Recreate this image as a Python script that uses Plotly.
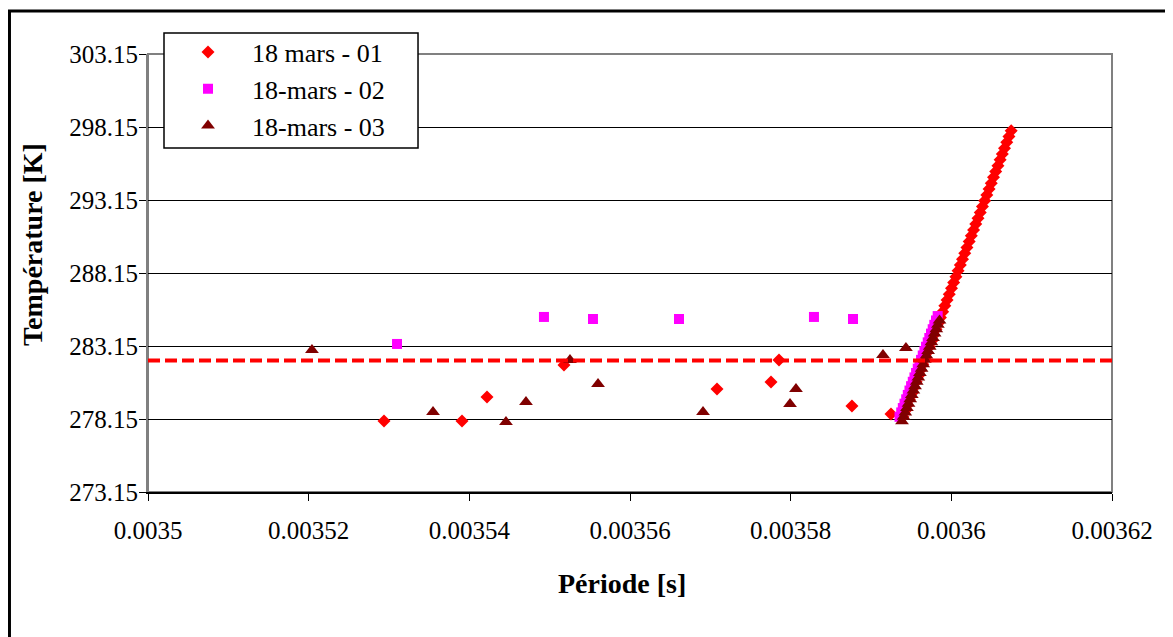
import plotly.graph_objects as go

# --- data ---
# series 18 mars - 01 (red diamonds): scattered points, then the dense ramp
per_01 = [0.00352938, 0.00353909, 0.00354220, 0.00355178, 0.00357083, 0.00357755,
          0.00357855, 0.00358763, 0.00359249,
          0.00359396, 0.00359423, 0.00359451, 0.00359478, 0.00359506, 0.00359534,
          0.00359561, 0.00359589, 0.00359616, 0.00359644, 0.00359671, 0.00359699,
          0.00359726, 0.00359754, 0.00359781, 0.00359809, 0.00359836, 0.00359864,
          0.00359892, 0.00359919, 0.00359947, 0.00359974, 0.00360002, 0.00360029,
          0.00360057, 0.00360084, 0.00360112, 0.00360139, 0.00360167, 0.00360194,
          0.00360222, 0.00360249, 0.00360277, 0.00360304, 0.00360332, 0.00360360,
          0.00360387, 0.00360415, 0.00360442, 0.00360470, 0.00360497, 0.00360525,
          0.00360552, 0.00360580, 0.00360607, 0.00360635, 0.00360662, 0.00360690,
          0.00360717, 0.00360745]
temp_01 = [278.01, 278.01, 279.66, 281.85, 280.20, 280.68, 282.19, 279.04, 278.49,
           278.3, 278.7, 279.1, 279.5, 279.9, 280.3, 280.7, 281.1, 281.5, 281.9,
           282.3, 282.7, 283.1, 283.5, 283.9, 284.3, 284.7, 285.1, 285.5, 285.9,
           286.3, 286.7, 287.1, 287.5, 287.9, 288.3, 288.7, 289.1, 289.5, 289.9,
           290.3, 290.7, 291.1, 291.5, 291.9, 292.3, 292.7, 293.1, 293.5, 293.9,
           294.3, 294.7, 295.1, 295.5, 295.9, 296.3, 296.7, 297.1, 297.5, 297.9]

# series 18-mars - 02 (magenta squares)
per_02 = [0.00353100, 0.00354929, 0.00355539, 0.00356610, 0.00358290, 0.00358776,
          0.00359355, 0.00359376, 0.00359396, 0.00359417, 0.00359438, 0.00359458,
          0.00359479, 0.00359499, 0.00359520, 0.00359541, 0.00359561, 0.00359582,
          0.00359603, 0.00359623, 0.00359644, 0.00359665, 0.00359685, 0.00359706,
          0.00359726, 0.00359747, 0.00359768, 0.00359788, 0.00359809, 0.00359830]
temp_02 = [283.29, 285.14, 285.00, 285.00, 285.14, 285.00,
           278.3, 278.6, 278.9, 279.2, 279.5, 279.8, 280.1, 280.4, 280.7, 281.0,
           281.3, 281.6, 281.9, 282.2, 282.5, 282.8, 283.1, 283.4, 283.7, 284.0,
           284.3, 284.6, 284.9, 285.2]

# series 18-mars - 03 (dark red triangles)
per_03 = [0.00352041, 0.00353548, 0.00354456, 0.00354705, 0.00355253, 0.00355602,
          0.00356909, 0.00357992, 0.00358066, 0.00359149, 0.00359435,
          0.00359386, 0.00359406, 0.00359427, 0.00359447, 0.00359467, 0.00359488,
          0.00359508, 0.00359528, 0.00359548, 0.00359569, 0.00359589, 0.00359609,
          0.00359630, 0.00359650, 0.00359670, 0.00359691, 0.00359711, 0.00359731,
          0.00359752, 0.00359772, 0.00359792, 0.00359813, 0.00359833, 0.00359853]
temp_03 = [282.88, 278.63, 277.94, 279.31, 282.19, 280.55, 278.63, 279.18, 280.20,
           282.53, 283.01,
           278.0, 278.3, 278.6, 278.9, 279.2, 279.5, 279.8, 280.1, 280.4, 280.7,
           281.0, 281.3, 281.6, 281.9, 282.2, 282.5, 282.8, 283.1, 283.4, 283.7,
           284.0, 284.3, 284.6, 284.9]

ref_temp = 282.15

x_ticks = [0.0035, 0.00352, 0.00354, 0.00356, 0.00358, 0.0036, 0.00362]
x_labels = ["0.0035", "0.00352", "0.00354", "0.00356", "0.00358", "0.0036", "0.00362"]
y_ticks = [273.15, 278.15, 283.15, 288.15, 293.15, 298.15, 303.15]
y_labels = ["273.15", "278.15", "283.15", "288.15", "293.15", "298.15", "303.15"]

FONT = "Liberation Serif, Times New Roman, serif"

fig = go.Figure()
fig.add_trace(go.Scatter(x=per_01, y=temp_01, mode="markers", name="18 mars - 01",
                         legendgroup="a",
                         marker=dict(symbol="diamond", size=10, color="#FF0000", line_width=0)))
fig.add_trace(go.Scatter(x=per_02, y=temp_02, mode="markers", name="18-mars - 02",
                         legendgroup="b",
                         marker=dict(symbol="square", size=10, color="#FF00FF", line_width=0)))
fig.add_trace(go.Scatter(x=per_03, y=temp_03, mode="markers", name="18-mars - 03",
                         legendgroup="c",
                         marker=dict(symbol="triangle-up", size=12, color="#800000", line_width=0)))

# dashed reference temperature
fig.add_hline(y=ref_temp, line=dict(color="#FF0000", width=4, dash="12px,5px"), layer="above")

# plot area frame (grey) and outer chart border (black)
fig.add_shape(type="rect", xref="paper", yref="paper", x0=0, x1=1, y0=0, y1=1,
              line=dict(color="#808080", width=2), layer="below")
fig.add_shape(type="rect", xref="paper", yref="paper", x0=-0.1437, x1=1.0617,
              y0=-0.35, y1=1.0982, line=dict(color="black", width=3))
# legend box
fig.add_shape(type="rect", xref="paper", yref="paper", x0=0.0166, x1=0.2801,
              y0=0.7854, y1=1.0479, line=dict(color="black", width=1.5),
              fillcolor="white", layer="above")

fig.add_annotation(text="<b>Température [K]</b>", textangle=-90, xref="paper", yref="paper",
                   x=-0.1203, y=0.5639, xanchor="center", yanchor="middle", showarrow=False,
                   font=dict(family=FONT, size=28, color="black"))
fig.add_annotation(text="<b>Période [s]</b>", xref="paper", yref="paper",
                   x=0.4917, y=-0.2078, xanchor="center", yanchor="middle", showarrow=False,
                   font=dict(family=FONT, size=28, color="black"))

fig.update_xaxes(range=[0.0035, 0.00362], tickvals=x_ticks, ticktext=x_labels,
                 showgrid=False, zeroline=False, showline=True, linecolor="black", linewidth=2,
                 ticks="outside", ticklen=7, tickcolor="black", ticklabelstandoff=8,
                 tickfont=dict(family=FONT, size=25, color="black"))
fig.update_yaxes(range=[273.15, 303.15], tickvals=y_ticks, ticktext=y_labels,
                 showgrid=True, gridcolor="black", gridwidth=1, zeroline=False,
                 showline=True, linecolor="#808080", linewidth=2,
                 ticks="outside", ticklen=7, tickcolor="black", ticklabelstandoff=-4,
                 tickfont=dict(family=FONT, size=25, color="black"))

# the page body adds an 8 px offset, so the figure is 8 px smaller each way
fig.update_layout(
    width=1165, height=629, autosize=False,
    margin=dict(l=140, r=61, t=46, b=145),
    paper_bgcolor="white", plot_bgcolor="white",
    font=dict(family=FONT, color="black"),
    legend=dict(x=0.0166, y=1.058, xanchor="left", yanchor="top",
                bgcolor="rgba(0,0,0,0)", borderwidth=0, itemwidth=78, tracegroupgap=0,
                font=dict(family=FONT, size=26, color="black")),
)

fig.write_html("out.html")
